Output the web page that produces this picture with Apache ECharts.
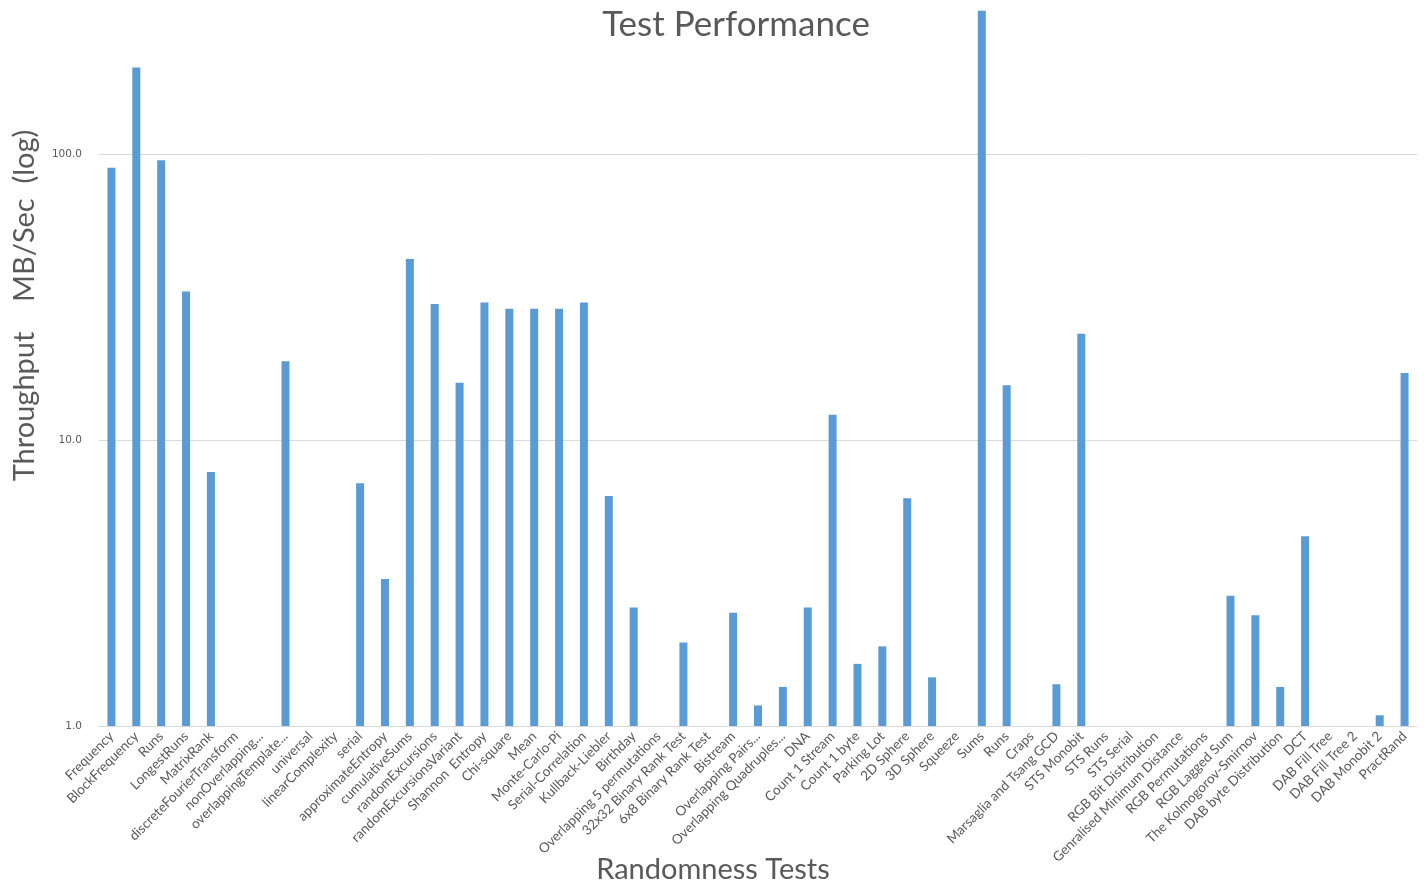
<!DOCTYPE html>
<html>
<head>
<meta charset="utf-8">
<title>Test Performance</title>
<script src="https://cdn.jsdelivr.net/npm/echarts@6/dist/echarts.min.js"></script>
<style>
    html, body { margin: 0; padding: 0; background: #fff; }
    #chart { width: 1424px; height: 888px; }
</style>
</head>
<body>
<div id="chart"></div>
<script>
var tests = [
    "Frequency", "BlockFrequency", "Runs", "LongestRuns", "MatrixRank",
    "discreteFourierTransform", "nonOverlapping...", "overlappingTemplate...", "universal", "linearComplexity",
    "serial", "approximateEntropy", "cumulativeSums", "randomExcursions", "randomExcursionsVariant",
    "Shannon  Entropy", "Chi-square", "Mean", "Monte-Carlo-Pi", "Serial-Correlation",
    "Kullback-Liebler", "Birthday", "Overlapping 5 permutations", "32x32 Binary Rank Test", "6x8 Binary Rank Test",
    "Bistream", "Overlapping Pairs...", "Overlapping Quadruples...", "DNA", "Count 1 Stream",
    "Count 1 byte", "Parking Lot", "2D Sphere", "3D Sphere", "Squeeze",
    "Sums", "Runs", "Craps", "Marsaglia and Tsang GCD", "STS Monobit",
    "STS Runs", "STS Serial", "RGB Bit Distribution", "Genralised Minimum Distance", "RGB Permutations",
    "RGB Lagged Sum", "The Kolmogorov-Smirnov", "DAB byte Distribution", "DCT", "DAB Fill Tree",
    "DAB Fill Tree 2", "DAB Monobit 2", "PractRand"
];

// MB/sec, null where the test has no bar
var throughput = [
    90, 202, 95.6, 33.2, 7.74,
    null, null, 18.9, null, null,
    7.08, 3.27, 43.1, 30.0, 15.9,
    30.4, 28.9, 28.9, 28.9, 30.4,
    6.39, 2.6, null, 1.96, null,
    2.49, 1.18, 1.37, 2.6, 12.3,
    1.65, 1.9, 6.27, 1.48, null,
    319, 15.6, null, 1.4, 23.6,
    null, null, null, null, null,
    2.86, 2.44, 1.37, 4.62, null,
    null, 1.09, 17.2
];

var yTicks = [1, 10, 100, 1000];

(function main() {
    var chart = echarts.init(document.getElementById("chart"), null, { renderer: "canvas" });
    var font = "Lato, 'Open Sans', sans-serif";
    var grey = "#595959";

    var option = {
        animation: false,
        textStyle: { fontFamily: font },
        title: {
            text: "Test Performance",
            left: 731,
            top: 2,
            textAlign: "center",
            textStyle: { fontFamily: font, fontSize: 35, fontWeight: "normal", color: grey }
        },
        // top of the log range (1000) sits above the canvas, as in the original
        grid: {
            left: 99,
            right: 7,
            top: -131,
            bottom: 162,
            outerBoundsMode: "none",
            containLabel: false
        },
        xAxis: {
            type: "category",
            data: tests,
            name: "Randomness Tests",
            nameLocation: "middle",
            nameGap: 129,
            nameMoveOverlap: false,
            nameTextStyle: { fontSize: 29, color: grey, padding: [0, 90, 0, 0] },
            axisLine: { lineStyle: { color: "#d9d9d9", width: 1 } },
            axisTick: { show: false },
            axisLabel: {
                interval: 0,
                rotate: 45,
                fontSize: 13.5,
                color: grey,
                margin: 8
            }
        },
        yAxis: {
            type: "log",
            logBase: 10,
            min: yTicks[0],
            max: yTicks[yTicks.length - 1],
            name: "Throughput    MB/Sec  (log)",
            nameLocation: "middle",
            nameGap: 60,
            nameMoveOverlap: false,
            nameTextStyle: { fontSize: 29, color: grey, padding: [0, 16, 0, 0] },
            axisLine: { show: false },
            axisTick: { show: false },
            splitLine: { lineStyle: { color: "#d9d9d9", width: 1 } },
            axisLabel: {
                fontFamily: "'DejaVu Sans', sans-serif",
                fontSize: 10.5,
                color: grey,
                margin: 17,
                formatter: function(v) { return Number(v).toFixed(1); }
            }
        },
        series: [{
            type: "bar",
            data: throughput,
            barWidth: 8,
            itemStyle: { color: "#5b9bd5" }
        }]
    };

    chart.setOption(option, true);
})();
</script>
</body>
</html>
